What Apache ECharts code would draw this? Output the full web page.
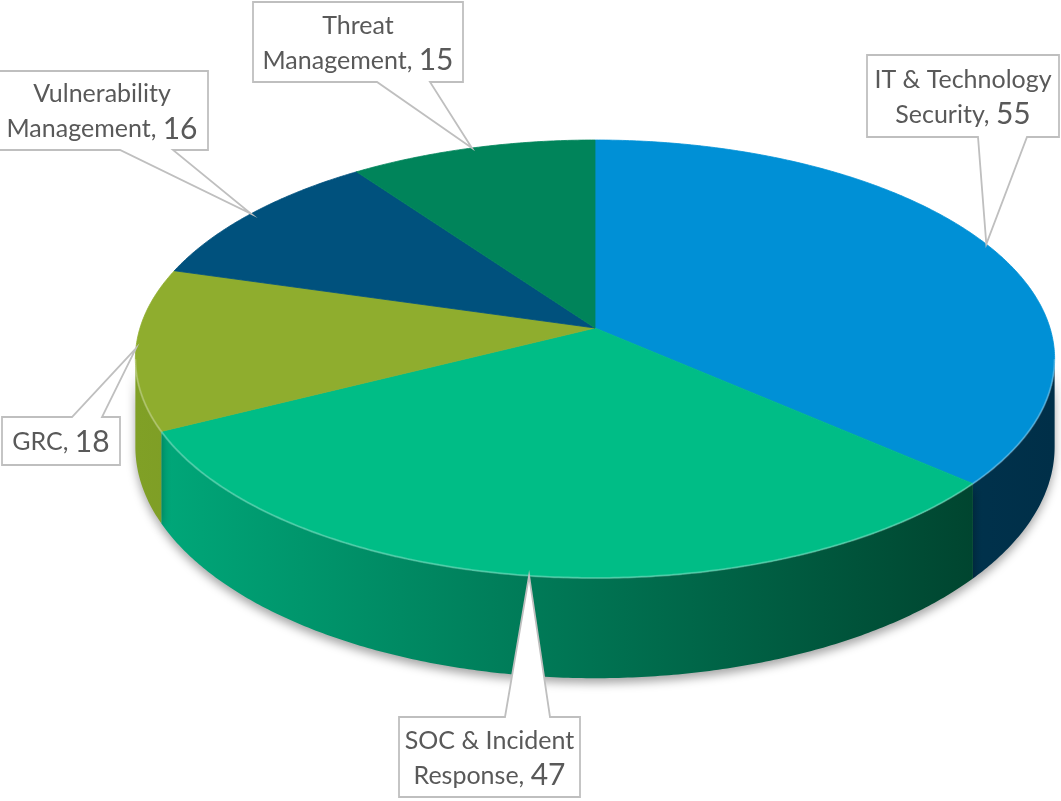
<!DOCTYPE html>
<html>
<head>
<meta charset="utf-8">
<script src="https://cdn.jsdelivr.net/npm/echarts@6/dist/echarts.min.js"></script>
<style>
  html, body { margin: 0; padding: 0; background: #fff; }
  #chart { width: 1061px; height: 801px; }
</style>
</head>
<body>
<div id="chart"></div>
<script>
const categories = [
  "IT & Technology Security",
  "SOC & Incident Response",
  "GRC",
  "Vulnerability Management",
  "Threat Management",
];
const values = [55, 47, 18, 16, 15];

// colours of the top faces and of the side walls (left -> right shading)
const topColors = ["#0090d6", "#00bd86", "#8fad2e", "#00517d", "#00845a"];
const wallColors = [
  ["#004a70", "#002f48"],
  ["#00aa7b", "#003b28"],
  ["#80a026", "#5a7016"],
  ["#003a5c", "#002840"],
  ["#006a48", "#004a30"],
];

// callout boxes: [x, y, w, h], pointer side, pointer base x, words on first line
const callouts = [
  { box: [867, 55, 192, 82], side: "bottom", base: [978, 1027], wrap: 3 },
  { box: [399, 717, 181, 80], side: "top", base: [505, 550], wrap: 3 },
  { box: [2, 417, 118, 48], side: "top", base: [72, 102], wrap: 0 },
  { box: [-4, 71, 212, 79], side: "bottom", base: [120, 173], wrap: 1 },
  { box: [253, 2, 210, 80], side: "bottom", base: [377, 430], wrap: 1 },
];

// perspective projection of the tilted disc
const CX = 595, CY = 328, RX = 455, RY = 214.6, P = 0.1416, DEPTH = 86;
const FRONT_MIN = 98.2, FRONT_MAX = 261.8;

function proj(deg, drop) {
  const t = (deg * Math.PI) / 180;
  const u = Math.sin(t), v = Math.cos(t);
  const w = 1 + P * v;
  return [CX + (RX * u) / w, CY - (RY * v) / w + (drop * DEPTH) / w];
}

function arc(a0, a1, drop) {
  const pts = [];
  const n = Math.max(2, Math.ceil(Math.abs(a1 - a0) / 0.5));
  for (let k = 0; k <= n; k++) pts.push(proj(a0 + ((a1 - a0) * k) / n, drop));
  return pts;
}

const total = values.reduce((s, v) => s + v, 0);
function sliceAngles(i) {
  let start = 0;
  for (let k = 0; k < i; k++) start += (values[k] / total) * 360;
  return [start, start + (values[i] / total) * 360];
}

function renderSlice(params, api) {
  const i = params.dataIndex;
  const [a0, a1] = sliceAngles(i);
  const children = [];

  const w0 = Math.max(a0, FRONT_MIN), w1 = Math.min(a1, FRONT_MAX);
  if (w0 < w1) {
    const pts = arc(w0, w1, 0).concat(arc(w1, w0, 1));
    const grad = new echarts.graphic.LinearGradient(135, 0, 1055, 0, [
      { offset: 0, color: wallColors[i][0] },
      { offset: 1, color: wallColors[i][1] },
    ], true);
    children.push({
      type: "polygon",
      shape: { points: pts },
      style: {
        fill: grad,
        shadowBlur: 10,
        shadowOffsetY: 5,
        shadowColor: "rgba(0,0,0,0.35)",
      },
    });
    children.push({
      type: "polyline",
      shape: { points: arc(w0, w1, 0) },
      style: { fill: null, stroke: "rgba(255,255,255,0.25)", lineWidth: 2 },
      z2: 3,
    });
  }

  const top = [[CX, CY]].concat(arc(a0, a1, 0));
  children.push({
    type: "polygon",
    shape: { points: top },
    style: { fill: topColors[i], stroke: topColors[i], lineWidth: 0.8 },
    z2: 2,
  });
  return { type: "group", children };
}

function renderCallout(params, api) {
  const i = params.dataIndex;
  const c = callouts[i];
  const [a0, a1] = sliceAngles(i);
  const tip = proj((a0 + a1) / 2, 0);
  const [x, y, w, h] = c.box;
  const x1 = x + w, y1 = y + h;
  let pts;
  if (c.side === "bottom") {
    pts = [[x, y], [x1, y], [x1, y1], [c.base[1], y1], tip, [c.base[0], y1], [x, y1]];
  } else {
    pts = [[x, y], [c.base[0], y], tip, [c.base[1], y], [x1, y], [x1, y1], [x, y1]];
  }
  const words = categories[i].split(" ");
  const v = api.value(0);
  let text;
  if (c.wrap > 0 && c.wrap < words.length) {
    text = "{n|" + words.slice(0, c.wrap).join(" ") + "}\n{n|" +
      words.slice(c.wrap).join(" ") + ", }{v|" + v + "}";
  } else {
    text = "{n|" + categories[i] + ", }{v|" + v + "}";
  }
  return {
    type: "group",
    children: [
      {
        type: "polygon",
        shape: { points: pts },
        style: { fill: "#ffffff", stroke: "#bfbfbf", lineWidth: 1.8 },
      },
      {
        type: "text",
        z2: 5,
        style: {
          x: x + w / 2,
          y: y + h / 2 + 1,
          text: text,
          align: "center",
          verticalAlign: "middle",
          rich: {
            n: { fontFamily: "Lato", fontSize: 25, fill: "#595959", lineHeight: 35 },
            v: { fontFamily: "Lato", fontSize: 30, fill: "#595959", lineHeight: 35 },
          },
        },
      },
    ],
  };
}

const chart = echarts.init(document.getElementById("chart"));
chart.setOption({
  backgroundColor: "#ffffff",
  animation: false,
  series: [
    {
      type: "custom",
      name: "slices",
      coordinateSystem: "none",
      silent: true,
      renderItem: renderSlice,
      data: values.map((v, i) => ({ name: categories[i], value: [v] })),
      z: 2,
    },
    {
      type: "custom",
      name: "labels",
      coordinateSystem: "none",
      silent: true,
      renderItem: renderCallout,
      data: values.map((v, i) => ({ name: categories[i], value: [v] })),
      z: 10,
    },
  ],
});
</script>
</body>
</html>
